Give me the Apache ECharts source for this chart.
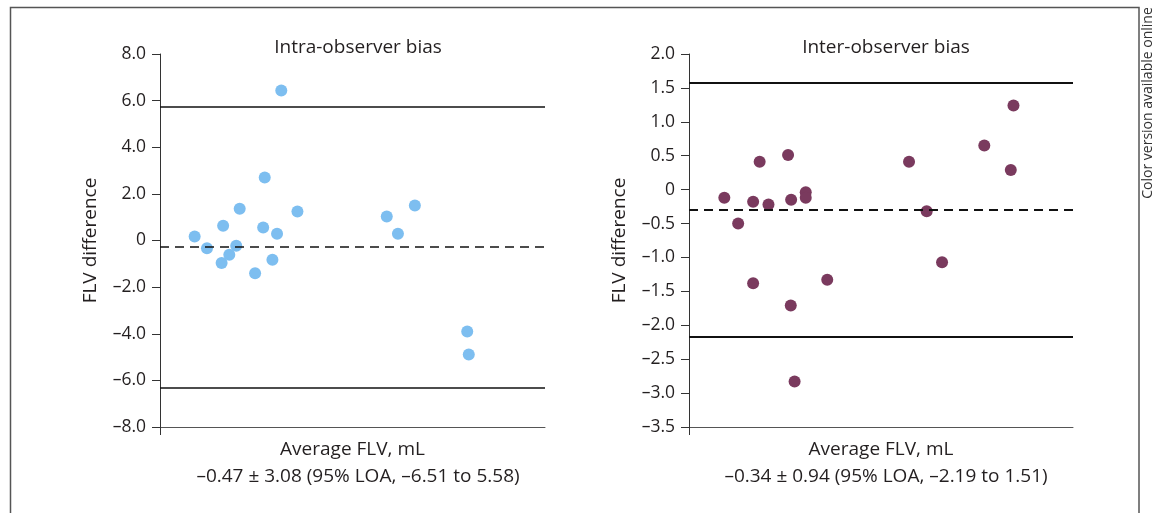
<!DOCTYPE html>
<html>
<head>
<meta charset="utf-8">
<script src="https://cdn.jsdelivr.net/npm/echarts@6/dist/echarts.min.js"></script>
<style>
html,body{margin:0;padding:0;background:#fff;}
#chart{width:1166px;height:513px;}
</style>
</head>
<body>
<div id="chart"></div>
<script>
// ---- data ----
const leftTitle = 'Intra-observer bias';
const rightTitle = 'Inter-observer bias';
const xName = 'Average FLV, mL';
const yName = 'FLV difference';
const leftStats = '\u20130.47 \u00b1 3.08 (95% LOA, \u20136.51 to 5.58)';
const rightStats = '\u20130.34 \u00b1 0.94 (95% LOA, \u20132.19 to 1.51)';
const sideNote = 'Color version available online';

// Average FLV (arbitrary unlabeled scale 0-100) and difference
const leftX = [9.0, 12.2, 16.4, 16.0, 18.0, 19.8, 20.7, 24.7, 26.8, 27.2, 29.2, 30.4, 31.5, 35.7, 58.9, 61.8, 66.2, 79.8, 80.2];
const leftY = [0.17, -0.33, 0.63, -0.97, -0.61, -0.23, 1.36, -1.40, 0.56, 2.70, -0.83, 0.29, 6.43, 1.24, 1.03, 0.29, 1.50, -3.90, -4.89];
const rightX = [9.2, 12.8, 16.7, 16.7, 18.4, 20.7, 25.8, 26.6, 26.5, 27.5, 30.4, 30.4, 36.0, 57.3, 61.9, 65.9, 76.9, 83.8, 84.5];
const rightY = [-0.12, -0.50, -0.18, -1.38, 0.41, -0.22, 0.51, -0.15, -1.71, -2.83, -0.04, -0.12, -1.33, 0.41, -0.32, -1.07, 0.65, 0.29, 1.24];

// limits of agreement lines as drawn [upper, lower] and bias line
const leftLOA = [5.72, -6.33];
const leftBias = -0.27;
const rightLOA = [1.57, -2.17];
const rightBias = -0.29;

// tick labels
const leftTicks = ['\u20138.0', '\u20136.0', '\u20134.0', '\u20132.0', '0', '2.0', '4.0', '6.0', '8.0'];
const rightTicks = ['\u20133.5', '\u20133.0', '\u20132.5', '\u20132.0', '\u20131.5', '\u20131.0', '\u20130.5', '0', '0.5', '1.0', '1.5', '2.0'];
const leftRange = [-8, 8, 2];
const rightRange = [-3.5, 2, 0.5];
const xRange = [0, 100];

// ---- chart ----
const FONT = 'Open Sans';
const TXT = '#231f20';
const FS = 19;
const chart = echarts.init(document.getElementById('chart'), null, {renderer: 'canvas'});

function zip(xs, ys) { return xs.map((x, i) => [x, ys[i]]); }

function yAxisFor(idx, range, ticks) {
  return {
    type: 'value', gridIndex: idx,
    min: range[0], max: range[1], interval: range[2],
    name: yName, nameLocation: 'middle', nameGap: 60, nameRotate: 90,
    nameTextStyle: {fontFamily: FONT, fontSize: FS, color: TXT},
    axisLine: {show: true, lineStyle: {color: '#333', width: 1}},
    axisTick: {show: true, length: 8, lineStyle: {color: '#333', width: 1}},
    axisLabel: {
      margin: 14, fontFamily: FONT, fontSize: 17.5, color: TXT,
      formatter: v => ticks[Math.round((v - range[0]) / range[2])]
    },
    splitLine: {show: false}
  };
}
function xAxisFor(idx) {
  return {
    type: 'value', gridIndex: idx, min: xRange[0], max: xRange[1],
    name: xName, nameLocation: 'middle', nameGap: 13,
    nameTextStyle: {fontFamily: FONT, fontSize: FS, color: TXT},
    axisLine: {show: true, onZero: false, lineStyle: {color: '#555', width: 1}},
    axisTick: {show: true, length: 8, customValues: [xRange[0]], lineStyle: {color: '#333', width: 1}},
    axisLabel: {show: false},
    splitLine: {show: false}
  };
}
function loaLines(loa, bias, width) {
  return {
    silent: true, symbol: 'none', label: {show: false},
    emphasis: {disabled: true},
    data: [
      {yAxis: loa[0], lineStyle: {type: 'solid', color: '#111', width: width}},
      {yAxis: loa[1], lineStyle: {type: 'solid', color: '#111', width: width}},
      {yAxis: bias, lineStyle: {type: [9, 6], color: '#111', width: width}}
    ]
  };
}
const titleStyle = {fontFamily: FONT, fontSize: FS, fontWeight: 'normal', color: TXT};

const option = {
  backgroundColor: '#fff',
  animation: false,
  title: [
    {text: leftTitle, left: 353, top: 33, textAlign: 'center', textStyle: titleStyle},
    {text: rightTitle, left: 881, top: 33, textAlign: 'center', textStyle: titleStyle},
    {text: leftStats, left: 353, top: 462, textAlign: 'center', textStyle: titleStyle},
    {text: rightStats, left: 881, top: 462, textAlign: 'center', textStyle: titleStyle}
  ],
  graphic: [
    {type: 'rect', silent: true, shape: {x: 10.5, y: 7.5, width: 1128.5, height: 540},
     style: {fill: 'none', stroke: '#555', lineWidth: 1.5}},
    {type: 'text', silent: true, x: 1148, y: 103, rotation: Math.PI / 2,
     style: {text: sideNote, fontFamily: FONT, fontSize: 14, fill: '#333', align: 'center', verticalAlign: 'middle'}}
  ],
  grid: [
    {left: 160, top: 54, width: 385, height: 373, containLabel: false},
    {left: 689, top: 54, width: 384, height: 373, containLabel: false}
  ],
  xAxis: [xAxisFor(0), xAxisFor(1)],
  yAxis: [yAxisFor(0, leftRange, leftTicks), yAxisFor(1, rightRange, rightTicks)],
  series: [
    {type: 'scatter', xAxisIndex: 0, yAxisIndex: 0, data: zip(leftX, leftY), symbolSize: 12,
     itemStyle: {color: '#7dbef0', opacity: 1}, silent: true, z: 3,
     markLine: loaLines(leftLOA, leftBias, 1.6)},
    {type: 'scatter', xAxisIndex: 1, yAxisIndex: 1, data: zip(rightX, rightY), symbolSize: 12,
     itemStyle: {color: '#7a3a5e', opacity: 1}, silent: true, z: 3,
     markLine: loaLines(rightLOA, rightBias, 2)}
  ]
};
chart.setOption(option);
</script>
</body>
</html>
